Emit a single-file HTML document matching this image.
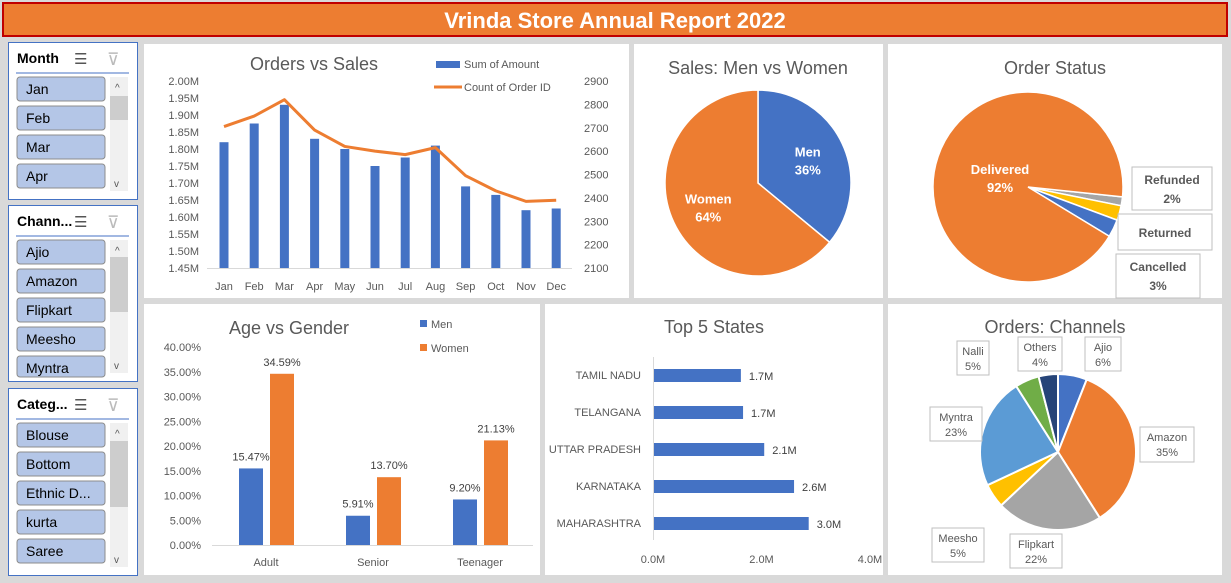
<!DOCTYPE html>
<html><head><meta charset="utf-8"><style>
body{margin:0;background:#d9d9d9;width:1231px;height:583px;overflow:hidden;font-family:"Liberation Sans",sans-serif}
svg{display:block}
text{font-family:"Liberation Sans",sans-serif}
</style></head><body>
<svg id="s" width="1231" height="583" viewBox="0 0 1231 583">
<rect x="0" y="0" width="1231" height="583" fill="#d9d9d9"/>
<g>
<rect x="3" y="3" width="1224" height="33" fill="#ed7d31" stroke="#c00000" stroke-width="2"/>
<text x="615" y="28" text-anchor="middle" font-size="22" font-weight="bold" fill="#fff">Vrinda Store Annual Report 2022</text>
</g>
<g id="slicers"></g>
<rect x="144" y="44" width="485" height="254" fill="#fff"/>
<rect x="634" y="44" width="249" height="254" fill="#fff"/>
<rect x="888" y="44" width="334" height="254" fill="#fff"/>
<rect x="144" y="304" width="396" height="271" fill="#fff"/>
<rect x="545" y="304" width="338" height="271" fill="#fff"/>
<rect x="888" y="304" width="334" height="271" fill="#fff"/>
<g id="c1"></g><g id="c2"></g><g id="c3"></g><g id="c4"></g><g id="c5"></g><g id="c6"></g>
</svg>
<script>
const months=["Jan","Feb","Mar","Apr","May","Jun","Jul","Aug","Sep","Oct","Nov","Dec"];
const sales=[1.82,1.875,1.93,1.83,1.80,1.75,1.775,1.81,1.69,1.665,1.62,1.625];
const orders=[2705,2750,2820,2690,2620,2600,2585,2615,2495,2430,2385,2390];
const leftTicks=[1.45,1.50,1.55,1.60,1.65,1.70,1.75,1.80,1.85,1.90,1.95,2.00];
const rightTicks=[2100,2200,2300,2400,2500,2600,2700,2800,2900];
const genderLabels=["Men","Women"];
const genderValues=[36,64];
const statusLabels=["Refunded","Returned","Cancelled","Delivered"];
const statusValues=[1.5,2.5,3,93];
const statusText=["2%","","3%","92%"];
const ageCats=["Adult","Senior","Teenager"];
const ageMen=[15.47,5.91,9.20];
const ageWomen=[34.59,13.70,21.13];
const ageTicks=[0,5,10,15,20,25,30,35,40];
const states=["TAMIL NADU","TELANGANA","UTTAR PRADESH","KARNATAKA","MAHARASHTRA"];
const stateValues=[1.62,1.66,2.05,2.6,2.87];
const stateText=["1.7M","1.7M","2.1M","2.6M","3.0M"];
const stateTicks=[0,2,4];
const channels=["Ajio","Amazon","Flipkart","Meesho","Myntra","Nalli","Others"];
const channelValues=[6,35,22,5,23,5,4];
const slicerMonth=["Jan","Feb","Mar","Apr"];
const slicerChannel=["Ajio","Amazon","Flipkart","Meesho","Myntra"];
const slicerCat=["Blouse","Bottom","Ethnic D...","kurta","Saree"];

const NS="http://www.w3.org/2000/svg";
function mk(p,tag,a,txt){const e=document.createElementNS(NS,tag);for(const k in a)e.setAttribute(k,a[k]);if(txt!==undefined)e.textContent=txt;p.appendChild(e);return e;}
const G=id=>document.getElementById(id);
const grey="#595959";

function slicer(title,items,y0,y1,thumb){
  const g=mk(G('slicers'),'g',{});
  
  
  mk(g,'rect',{x:8.5,y:y0+.5,width:129,height:y1-y0,fill:'#fff',stroke:'#4472c4'});
  mk(g,'text',{x:17,y:y0+21,'font-size':14,'font-weight':'bold',fill:'#000'},title);
  mk(g,'text',{x:74,y:y0+22,'font-size':15,fill:'#555'},'☰');
  mk(g,'text',{x:107,y:y0+23,'font-size':17,fill:'#bbb'},'⊽');
  mk(g,'line',{x1:16,x2:129,y1:y0+31,y2:y0+31,stroke:'#4472c4'});
  const by=y0+35;
  items.forEach((t,i)=>{
    const y=by+i*29;
    const h=Math.min(24,y1-4-y);
    if(h<6)return;
    const b=mk(g,'g',{});
    
    
    mk(b,'rect',{x:17,y:y,width:88,height:h,rx:3,fill:'#b4c6e7',stroke:'#8c8c8c'});
    if(h>16)mk(b,'text',{x:26,y:y+17,'font-size':14,fill:'#000'},t);
  });
  const sb=mk(g,'g',{});
  
  
  mk(sb,'rect',{x:110,y:by,width:18,height:y1-by-8,fill:'#f0f0f0'});
  mk(sb,'rect',{x:110,y:thumb[0],width:18,height:thumb[1]-thumb[0],fill:'#cdcdcd'});
  mk(sb,'text',{x:115,y:by+14,'font-size':10,fill:'#555'},'^');
  mk(sb,'text',{x:114,y:y1-12,'font-size':10,fill:'#555'},'v');
}
slicer('Month',slicerMonth,42,199,[96,120]);
slicer('Chann...',slicerChannel,205,381,[257,312]);
slicer('Categ...',slicerCat,388,575,[441,507]);

(function(){
  const g=G('c1');
  const yL=v=>268-(v-1.45)/0.55*187, yR=v=>268-(v-2100)/800*187, x=i=>224+i*30.2;
  mk(g,'text',{x:314,y:70,'font-size':18,fill:grey,'text-anchor':'middle'},'Orders vs Sales');
  leftTicks.forEach(t=>mk(g,'text',{x:199,y:yL(t)+4,'font-size':11,fill:grey,'text-anchor':'end'},t.toFixed(2)+'M'));
  rightTicks.forEach(t=>mk(g,'text',{x:584,y:yR(t)+4,'font-size':11,fill:grey},t));
  mk(g,'line',{x1:207,x2:572,y1:268.5,y2:268.5,stroke:'#d9d9d9'});
  months.forEach((m,i)=>{
    const r=mk(g,'rect',{x:x(i)-4.5,y:yL(sales[i]),width:9,height:268-yL(sales[i]),fill:'#4472c4'});
    
    
    mk(g,'text',{x:x(i),y:290,'font-size':11,fill:grey,'text-anchor':'middle'},m);
  });
  const l=mk(g,'polyline',{points:orders.map((v,i)=>x(i)+','+yR(v)).join(' '),fill:'none',stroke:'#ed7d31','stroke-width':3,'stroke-linejoin':'round'});
  
  
  mk(g,'rect',{x:436,y:61,width:24,height:7,fill:'#4472c4'});
  mk(g,'text',{x:464,y:68,'font-size':11,fill:grey},'Sum of Amount');
  mk(g,'line',{x1:434,x2:462,y1:87,y2:87,stroke:'#ed7d31','stroke-width':3});
  mk(g,'text',{x:464,y:91,'font-size':11,fill:grey},'Count of Order ID');
})();

function arc(cx,cy,r,a0,a1){const p=a=>[cx+r*Math.sin(a*Math.PI/180),cy-r*Math.cos(a*Math.PI/180)];
  const [x0,y0]=p(a0),[x1,y1]=p(a1);return `M${cx},${cy}L${x0},${y0}A${r},${r} 0 ${a1-a0>180?1:0} 1 ${x1},${y1}Z`;}

(function(){
  const g=G('c2');
  const cx=758,cy=183;
  mk(g,'text',{x:758,y:74,'font-size':18,fill:grey,'text-anchor':'middle'},'Sales: Men vs Women');
  const cols=['#4472c4','#ed7d31'];let a=0;const tot=genderValues.reduce((s,v)=>s+v,0);
  genderValues.forEach((v,i)=>{const d=v/tot*360;
    const p=mk(g,'path',{d:arc(cx,cy,93,a,a+d),fill:cols[i],stroke:'#fff','stroke-width':1.5});
    
    
    const m=(a+d/2)*Math.PI/180;const lx=cx+55*Math.sin(m),ly=cy-55*Math.cos(m);
    mk(g,'text',{x:lx,y:ly-3,'font-size':13,'font-weight':'bold',fill:'#fff','text-anchor':'middle'},genderLabels[i]);
    mk(g,'text',{x:lx,y:ly+15,'font-size':13,'font-weight':'bold',fill:'#fff','text-anchor':'middle'},Math.round(v/tot*100)+'%');
    a+=d;});
})();

(function(){
  const g=G('c3');
  const cx=1028,cy=187,r=95;
  mk(g,'text',{x:1055,y:74,'font-size':18,fill:grey,'text-anchor':'middle'},'Order Status');
  const cols=['#a5a5a5','#ffc000','#4472c4','#ed7d31'];let a=96;const tot=statusValues.reduce((s,v)=>s+v,0);
  const boxes=[[1132,167,80,43],[1118,214,94,36],[1116,254,84,44]];
  statusValues.forEach((v,i)=>{const d=v/tot*360;
    const p=mk(g,'path',{d:arc(cx,cy,r,a,a+d),fill:cols[i],stroke:'#fff','stroke-width':1.5});
    
    
    if(i<3){const b=boxes[i];
      const bx=b[0]+b[2]/2;
      mk(g,'rect',{x:b[0],y:b[1],width:b[2],height:b[3],fill:'#fff',stroke:'#bfbfbf'});
      mk(g,'text',{x:bx,y:b[1]+(statusText[i]?17:23),'font-size':12,'font-weight':'bold',fill:grey,'text-anchor':'middle'},statusLabels[i]);
      if(statusText[i])mk(g,'text',{x:bx,y:b[1]+36,'font-size':12,'font-weight':'bold',fill:grey,'text-anchor':'middle'},statusText[i]);
    } else {
      mk(g,'text',{x:1000,y:174,'font-size':13,'font-weight':'bold',fill:'#fff','text-anchor':'middle'},statusLabels[i]);
      mk(g,'text',{x:1000,y:192,'font-size':13,'font-weight':'bold',fill:'#fff','text-anchor':'middle'},statusText[i]);
    }
    a+=d;});
})();

(function(){
  const g=G('c4');
  const y=v=>545-v/40*198;
  mk(g,'text',{x:289,y:334,'font-size':18,fill:grey,'text-anchor':'middle'},'Age vs Gender');
  ageTicks.forEach(t=>mk(g,'text',{x:201,y:y(t)+4,'font-size':11,fill:grey,'text-anchor':'end'},t.toFixed(2)+'%'));
  mk(g,'line',{x1:212,x2:533,y1:545.5,y2:545.5,stroke:'#d9d9d9'});
  ageCats.forEach((c,i)=>{const cx=266+i*107;
    [[ageMen,'#4472c4',-15,'men'],[ageWomen,'#ed7d31',16,'women']].forEach(s=>{
      const v=s[0][i];
      const r=mk(g,'rect',{x:cx+s[2]-12,y:y(v),width:24,height:545-y(v),fill:s[1]});
      
      
      mk(g,'text',{x:cx+s[2],y:y(v)-8,'font-size':11,fill:'#404040','text-anchor':'middle'},v.toFixed(2)+'%');
    });
    mk(g,'text',{x:cx,y:566,'font-size':11,fill:grey,'text-anchor':'middle'},c);
  });
  mk(g,'rect',{x:420,y:320,width:7,height:7,fill:'#4472c4'});
  mk(g,'text',{x:431,y:328,'font-size':11,fill:grey},'Men');
  mk(g,'rect',{x:420,y:344,width:7,height:7,fill:'#ed7d31'});
  mk(g,'text',{x:431,y:352,'font-size':11,fill:grey},'Women');
})();

(function(){
  const g=G('c5');
  const x=v=>653+v*54.25;
  mk(g,'text',{x:714,y:333,'font-size':18,fill:grey,'text-anchor':'middle'},'Top 5 States');
  mk(g,'line',{x1:653.5,x2:653.5,y1:357,y2:540,stroke:'#d9d9d9'});
  states.forEach((s,i)=>{const yc=375+i*37;
    const r=mk(g,'rect',{x:654,y:yc-6,width:x(stateValues[i])-654,height:13,fill:'#4472c4'});
    
    
    mk(g,'text',{x:641,y:yc+4,'font-size':11,fill:grey,'text-anchor':'end'},s);
    mk(g,'text',{x:x(stateValues[i])+8,y:yc+5,'font-size':11,fill:'#404040'},stateText[i]);
  });
  stateTicks.forEach(t=>mk(g,'text',{x:x(t),y:563,'font-size':11,fill:grey,'text-anchor':'middle'},t.toFixed(1)+'M'));
})();

(function(){
  const g=G('c6');
  mk(g,'text',{x:1055,y:333,'font-size':18,fill:grey,'text-anchor':'middle'},'Orders: Channels');
  const cols=['#4472c4','#ed7d31','#a5a5a5','#ffc000','#5b9bd5','#70ad47','#264478'];
  const tot=channelValues.reduce((s,v)=>s+v,0);let a=0;
  const boxes=[[1085,337,36,34],[1140,427,54,35],[1010,534,52,34],[932,528,52,34],[930,407,52,34],[957,341,32,34],[1018,337,44,34]];
  channelValues.forEach((v,i)=>{const d=v/tot*360;
    const p=mk(g,'path',{d:arc(1058,452,78,a,a+d),fill:cols[i],stroke:'#fff','stroke-width':2});
    
    
    const b=boxes[i];
    mk(g,'rect',{x:b[0],y:b[1],width:b[2],height:b[3],fill:'#fff',stroke:'#bfbfbf'});
    mk(g,'text',{x:b[0]+b[2]/2,y:b[1]+14,'font-size':11,fill:grey,'text-anchor':'middle'},channels[i]);
    mk(g,'text',{x:b[0]+b[2]/2,y:b[1]+29,'font-size':11,fill:grey,'text-anchor':'middle'},Math.round(v/tot*100)+'%');
    a+=d;});
})();
</script>
</body></html>
